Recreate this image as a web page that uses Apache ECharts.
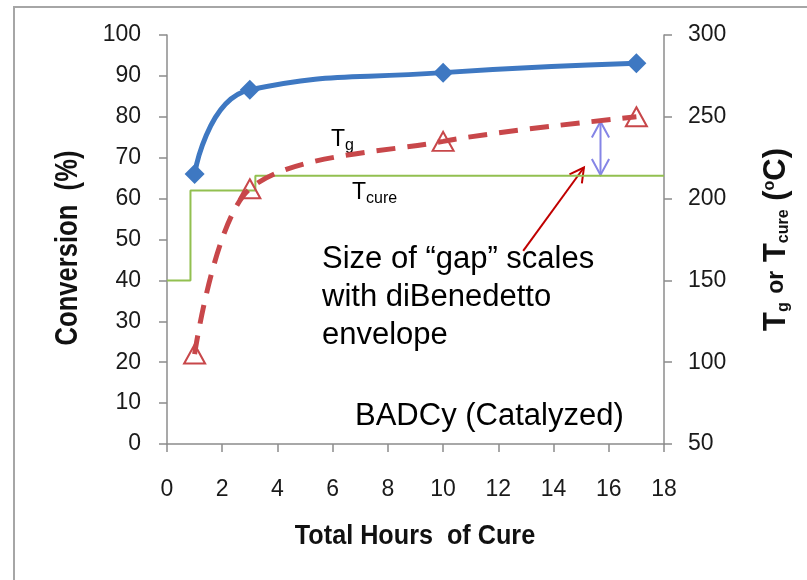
<!DOCTYPE html>
<html>
<head>
<meta charset="utf-8">
<script src="https://cdn.jsdelivr.net/npm/echarts@6/dist/echarts.min.js"></script>
<style>
  html, body { margin: 0; padding: 0; background: #ffffff; }
  #chart { width: 807px; height: 580px; }
</style>
</head>
<body>
<div id="chart"></div>
<script>
// Cure-time samples (hours)
const hours = [1, 3, 10, 17];
// Degree of conversion (%) at each sample
const conversion = [66, 86.6, 90.8, 93.1];
// Glass transition temperature Tg (°C) at each sample
const tg = [105, 206, 235, 250];
// Cure schedule: oven temperature steps (hours, °C)
const cureHours = [0, 0.85, 3.2, 18];
const cureTemp = [150, 205, 214, 214];

const AXIS_GRAY = '#8c8c8c';
const TEXT = '#1a1a1a';
const SANS = "'Liberation Sans', Arial, sans-serif";

const pair = (xs, ys) => xs.map((x, i) => [x, ys[i]]);

const tickLabel = { fontFamily: SANS, fontSize: 23, color: TEXT };
const axisLine = { show: true, onZero: false, lineStyle: { color: AXIS_GRAY, width: 1.5 } };
const axisTick = { show: true, inside: false, length: 8, lineStyle: { color: AXIS_GRAY, width: 1.5 } };

const chart = echarts.init(document.getElementById('chart'), null, { renderer: 'canvas' });

chart.setOption({
  animation: false,
  backgroundColor: '#ffffff',
  grid: { left: 167, right: 143, top: 35, bottom: 136 },
  xAxis: {
    type: 'value', min: 0, max: 18, interval: 2,
    axisLine, axisTick,
    splitLine: { show: false },
    axisLabel: Object.assign({ margin: 34 }, tickLabel)
  },
  yAxis: [
    {
      type: 'value', min: 0, max: 100, interval: 10, position: 'left',
      axisLine, axisTick,
      splitLine: { show: false },
      axisLabel: Object.assign({ margin: 26 }, tickLabel)
    },
    {
      type: 'value', min: 50, max: 300, interval: 50, position: 'right',
      axisLine, axisTick,
      splitLine: { show: false },
      axisLabel: Object.assign({ margin: 24 }, tickLabel),
      name: 'T{sub|g} {or|or} T{sub|cure} ({sup|o}C)',
      nameLocation: 'middle', nameRotate: 90, nameGap: 97,
      nameTextStyle: {
        fontFamily: SANS, fontWeight: 'bold', fontSize: 31, color: '#111',
        rich: {
          sub: { fontFamily: SANS, fontWeight: 'bold', fontSize: 16, color: '#111', padding: [14, 0, 0, 0] },
          sup: { fontFamily: SANS, fontWeight: 'bold', fontSize: 16, color: '#111', padding: [0, 0, 14, 0] },
          or: { fontFamily: SANS, fontWeight: 'bold', fontSize: 23, color: '#111' }
        }
      }
    }
  ],
  series: [
    {
      name: 'Tcure', type: 'line', yAxisIndex: 1,
      data: pair(cureHours, cureTemp),
      step: 'end', showSymbol: false, symbol: 'none',
      lineStyle: { color: '#92C050', width: 2 },
      z: 2
    },
    {
      name: 'Tg', type: 'line', yAxisIndex: 1,
      data: pair(hours, tg),
      smooth: 0.3,
      symbol: 'triangle', symbolSize: [21, 19],
      itemStyle: { color: 'rgba(255,255,255,0)', borderColor: '#C8474A', borderWidth: 2 },
      lineStyle: { color: '#C8474A', width: 5, type: [19, 12] },
      z: 3
    },
    {
      name: 'Conversion', type: 'line', yAxisIndex: 0,
      data: pair(hours, conversion),
      smooth: 0.5,
      symbol: 'diamond', symbolSize: 20,
      itemStyle: { color: '#3E78C2' },
      lineStyle: { color: '#3E78C2', width: 5 },
      z: 4
    }
  ]
});

// Annotations: axis titles, labels, gap indicator and pointer arrow
const px = (h, t) => chart.convertToPixel({ xAxisIndex: 0, yAxisIndex: 1 }, [h, t]);

const gapTop = px(15.7, 247);
const gapBot = px(15.7, 214.5);
const ptrFrom = px(12.9, 168);
const ptrTo = px(15.1, 219);

function arrowHead(tip, from, len, spread, color, width) {
  const ang = Math.atan2(tip[1] - from[1], tip[0] - from[0]);
  const a1 = ang + Math.PI - spread, a2 = ang + Math.PI + spread;
  return {
    type: 'polyline',
    shape: { points: [
      [tip[0] + len * Math.cos(a1), tip[1] + len * Math.sin(a1)],
      tip,
      [tip[0] + len * Math.cos(a2), tip[1] + len * Math.sin(a2)]
    ] },
    style: { stroke: color, lineWidth: width, fill: null }
  };
}

const GAP_BLUE = '#8585E6';
const PTR_RED = '#C00000';
const noteStyle = { fontFamily: SANS, fontSize: 31, fill: '#000' };
const titleStyle = { fontFamily: SANS, fontWeight: 'bold', fill: '#111', align: 'center', verticalAlign: 'middle' };

chart.setOption({
  graphic: [
    // outer frame
    { type: 'rect', shape: { x: 14, y: 7, width: 830, height: 620 },
      style: { stroke: '#a6a6a6', lineWidth: 2, fill: null }, silent: true },
    // axis titles (condensed bold)
    { type: 'text', x: 68, y: 248, rotation: Math.PI / 2, scaleX: 0.8,
      style: Object.assign({ text: 'Conversion  (%)', fontSize: 32 }, titleStyle) },
    { type: 'text', x: 415, y: 536, scaleX: 0.9,
      style: Object.assign({ text: 'Total Hours  of Cure', fontSize: 28 }, titleStyle) },
    // gap indicator (double arrow)
    { type: 'line', shape: { x1: gapTop[0], y1: gapTop[1], x2: gapBot[0], y2: gapBot[1] },
      style: { stroke: GAP_BLUE, lineWidth: 2 } },
    arrowHead(gapTop, gapBot, 18, 0.5, GAP_BLUE, 2),
    arrowHead(gapBot, gapTop, 18, 0.5, GAP_BLUE, 2),
    // pointer arrow
    { type: 'line', shape: { x1: ptrFrom[0], y1: ptrFrom[1], x2: ptrTo[0], y2: ptrTo[1] },
      style: { stroke: PTR_RED, lineWidth: 2 } },
    arrowHead(ptrTo, ptrFrom, 16, 0.5, PTR_RED, 2),
    // curve labels
    { type: 'text', x: 331, y: 140,
      style: { text: 'T{s|g}', fontFamily: SANS, fontSize: 23, fill: '#000', verticalAlign: 'middle',
        rich: { s: { fontFamily: SANS, fontSize: 16, fill: '#000', padding: [12, 0, 0, 0] } } } },
    { type: 'text', x: 352, y: 193,
      style: { text: 'T{s|cure}', fontFamily: SANS, fontSize: 23, fill: '#000', verticalAlign: 'middle',
        rich: { s: { fontFamily: SANS, fontSize: 16, fill: '#000', padding: [12, 0, 0, 0] } } } },
    // notes
    { type: 'text', x: 322, y: 259, style: Object.assign({ text: 'Size of \u201Cgap\u201D scales', verticalAlign: 'middle' }, noteStyle) },
    { type: 'text', x: 322, y: 297, style: Object.assign({ text: 'with diBenedetto', verticalAlign: 'middle' }, noteStyle) },
    { type: 'text', x: 322, y: 335, style: Object.assign({ text: 'envelope', verticalAlign: 'middle' }, noteStyle) },
    { type: 'text', x: 355, y: 416, style: Object.assign({ text: 'BADCy (Catalyzed)', verticalAlign: 'middle' }, noteStyle) }
  ]
});
</script>
</body>
</html>
